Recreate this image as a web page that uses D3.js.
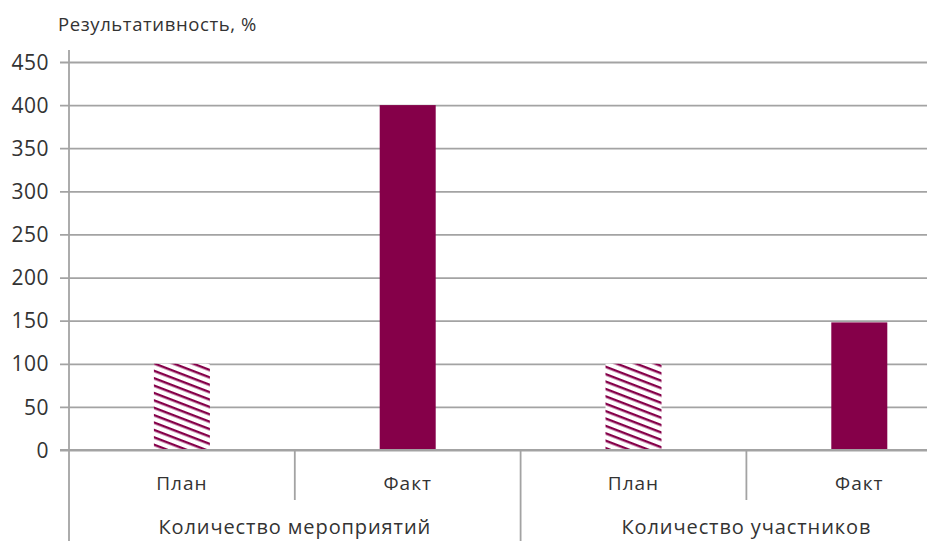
<!DOCTYPE html>
<html>
<head>
<meta charset="utf-8">
<script src="https://cdn.jsdelivr.net/npm/d3@7"></script>
<style>
  html, body { margin: 0; padding: 0; background: #fff; }
  svg { display: block; font-family: "Open Sans", sans-serif; }
</style>
</head>
<body>
<svg id="chart" width="927" height="541"></svg>
<script>
// ---- data ----
const groups = ["Количество мероприятий", "Количество участников"];
const subLabels = ["План", "Факт"];
const planValues = [100, 100];
const factValues = [400, 148];
const yTicks = [0, 50, 100, 150, 200, 250, 300, 350, 400, 450];
const yTitle = "Результативность, %";

(function () {
// ---- layout ----
const svg = d3.select("#chart");
const color = "#850049";
const gridColor = "#a3a3a3";
const textColor = "#333333";
const plotLeft = 69, plotTop = 62, plotBottom = 450;
const bandW = 225.8;

const items = [];
groups.forEach((g, gi) => {
  items.push({ key: gi + "-0", group: g, gi, label: subLabels[0], value: planValues[gi], type: "plan" });
  items.push({ key: gi + "-1", group: g, gi, label: subLabels[1], value: factValues[gi], type: "fact" });
});

const x = d3.scaleBand().domain(items.map(d => d.key))
  .range([plotLeft, plotLeft + bandW * items.length]).paddingInner(0).paddingOuter(0);
const y = d3.scaleLinear().domain([0, 450]).range([plotBottom, plotTop]);

// hatch pattern
const defs = svg.append("defs");
const pat = defs.append("pattern").attr("id", "hatch")
  .attr("patternUnits", "userSpaceOnUse")
  .attr("width", 20).attr("height", 6.9)
  .attr("patternTransform", "rotate(21)");
pat.append("rect").attr("width", 20).attr("height", 6.9).attr("fill", "#fff");
pat.append("rect").attr("y", 0).attr("width", 20).attr("height", 2.4).attr("fill", color);

// gridlines + ticks via axis
const yAxis = d3.axisLeft(y).tickValues(yTicks).tickSize(-(927 - plotLeft)).tickPadding(12);
const gy = svg.append("g").attr("transform", `translate(${plotLeft},0)`).call(yAxis);
gy.select(".domain").remove();
gy.selectAll(".tick line").attr("stroke", gridColor).attr("stroke-width", 1.8)
  .attr("x1", -9);
gy.selectAll(".tick text").attr("fill", textColor).attr("font-size", 21)
  .attr("font-family", "'Open Sans', sans-serif").attr("letter-spacing", 0.5)
  .attr("x", -20).attr("dy", "0.34em");

// bars
const barW = 56;
svg.append("g").selectAll("rect").data(items).join("rect")
  .attr("x", d => x(d.key) + x.bandwidth() / 2 - barW / 2)
  .attr("y", d => y(d.value))
  .attr("width", barW)
  .attr("height", d => y(0) - y(d.value))
  .attr("fill", d => d.type === "plan" ? "url(#hatch)" : color);

// redraw zero line on top
svg.append("line").attr("x1", plotLeft - 9).attr("x2", 927).attr("y1", y(0)).attr("y2", y(0))
  .attr("stroke", gridColor).attr("stroke-width", 1.8);

// y axis line
svg.append("line").attr("x1", plotLeft).attr("x2", plotLeft).attr("y1", 50).attr("y2", 541)
  .attr("stroke", gridColor).attr("stroke-width", 1.8);

// sub-category dividers
items.forEach((d, i) => {
  if (i === 0) return;
  const xx = x(d.key);
  const isGroupBoundary = d.gi !== items[i - 1].gi;
  svg.append("line").attr("x1", xx).attr("x2", xx)
    .attr("y1", y(0)).attr("y2", isGroupBoundary ? 541 : 500)
    .attr("stroke", gridColor).attr("stroke-width", 1.8);
});

// sub labels
svg.append("g").selectAll("text").data(items).join("text")
  .attr("x", d => x(d.key) + x.bandwidth() / 2)
  .attr("y", 490)
  .attr("text-anchor", "middle")
  .attr("font-size", 19)
  .attr("letter-spacing", 1)
  .attr("fill", textColor)
  .text(d => d.label);

// group labels
svg.append("g").selectAll("text").data(groups).join("text")
  .attr("x", (g, gi) => {
    const a = x(gi + "-0"), b = x(gi + "-1") + x.bandwidth();
    return (a + b) / 2;
  })
  .attr("y", 534)
  .attr("text-anchor", "middle")
  .attr("font-size", 20)
  .attr("letter-spacing", 0.9)
  .attr("fill", textColor)
  .text(d => d);

// title
svg.append("text").attr("x", 58).attr("y", 31)
  .attr("font-size", 18.5).attr("letter-spacing", 0.6)
  .attr("fill", textColor).text(yTitle);
})();
</script>
</body>
</html>
